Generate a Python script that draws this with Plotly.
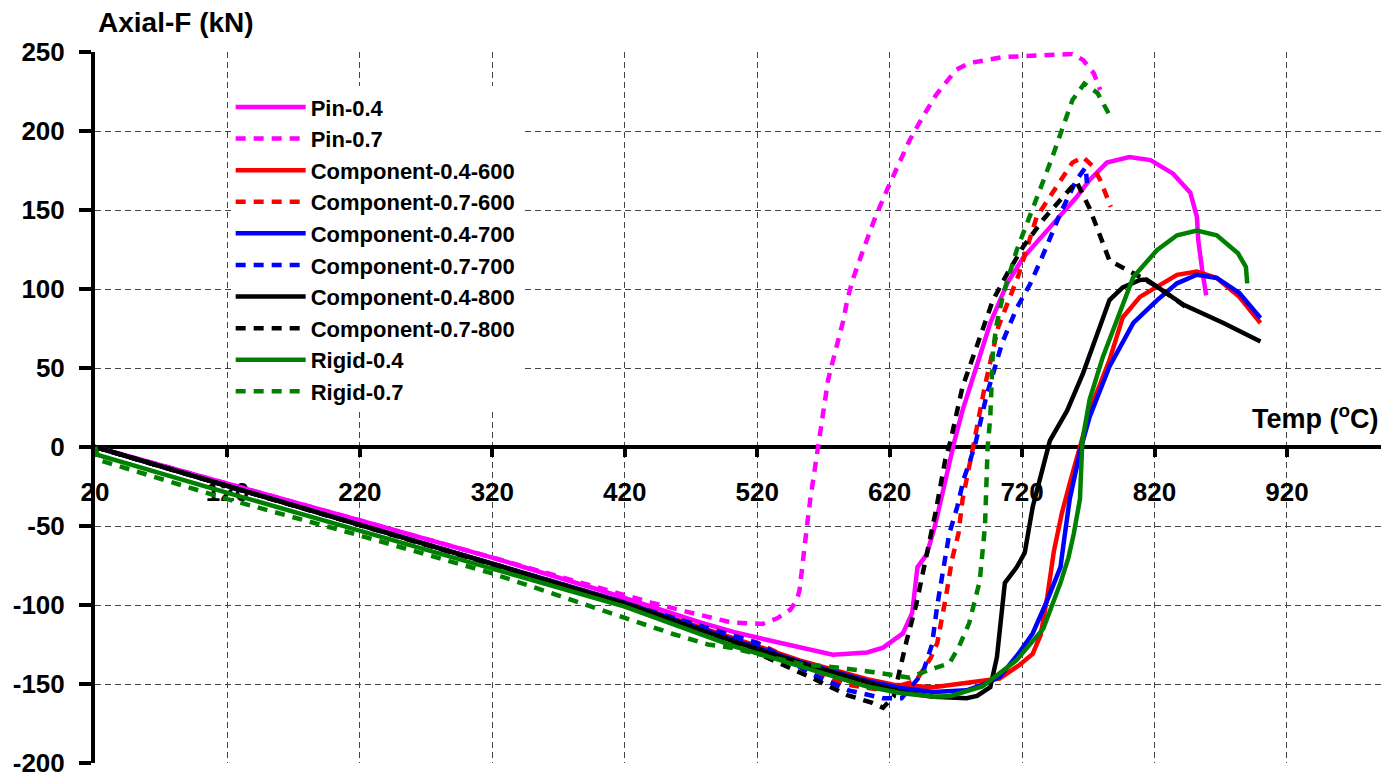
import plotly.graph_objects as go

# ---------------- data ----------------
x_ticks = [20, 120, 220, 320, 420, 520, 620, 720, 820, 920]
y_ticks = [-200, -150, -100, -50, 0, 50, 100, 150, 200, 250]

pin04_T = [20, 120, 220, 320, 401, 477, 502, 527, 577, 603, 615, 630, 637, 641, 648, 654, 663, 669, 675, 686, 696, 709, 721, 741, 761, 771, 784, 801, 817, 834, 847, 852, 853, 856, 859]
pin04_F = [0, -23, -46.5, -70, -90.5, -111, -117, -122, -131.5, -130, -127, -118, -105, -76, -68, -50.6, -16.6, 4, 23, 53, 78.5, 104, 120, 139, 158, 169, 180, 183.5, 181.6, 173, 161, 145.6, 131, 112, 96]

pin07_T = [20, 120, 220, 320, 420, 440, 468, 500, 524, 535, 545, 550, 552, 555, 557.5, 560, 566, 573.5, 576, 580, 585, 588, 592, 600, 609, 618, 628, 635, 643, 655, 670, 680, 706, 734, 758, 766, 774, 779]
pin07_F = [0, -23, -46.5, -70, -94, -98.5, -104.5, -111, -112, -108.4, -103, -96.8, -90.5, -71.5, -50.6, -33.5, 0, 42.4, 50.8, 63, 80, 93, 105.7, 124.7, 145, 162.7, 181.6, 194, 206, 222.8, 238.6, 243, 246.8, 248, 248.7, 245, 236.7, 226]

c04_600_T = [20, 120, 220, 320, 420, 502, 552, 603, 623, 653, 678, 690, 703, 718, 728, 734, 739, 744, 750, 756, 764, 772, 786, 796, 809, 822, 837, 852, 867, 884, 900]
c04_600_F = [0, -24.5, -49, -73.5, -98.5, -121, -135, -147, -150.5, -152, -149, -148, -146.5, -138, -131, -119, -95, -66, -42, -23, 0, 25, 55, 82, 95, 101.5, 109, 111, 107, 95, 78.5]

c07_600_T = [20, 120, 220, 320, 420, 520, 585, 615, 640, 651, 656, 663, 667, 672, 675, 683, 692, 702, 717, 731, 748, 758, 766, 773, 779, 787]
c07_600_F = [0, -24.5, -49, -74, -98.5, -124, -150, -154, -148, -133.5, -124, -92.4, -71.5, -54.6, -33.5, 0, 39, 76, 108, 145.6, 168, 180, 183.5, 178, 169, 152]

c04_700_T = [20, 120, 220, 320, 420, 502, 552, 603, 628, 653, 678, 690, 703, 718, 728, 739, 749, 752, 756, 764, 771, 786, 804, 822, 837, 852, 867, 884, 900]
c04_700_F = [0, -24.5, -49, -73.5, -98.5, -122, -136, -148, -152.5, -155, -154, -150.6, -145.6, -130, -118, -97, -76, -57, -33, -2, 19, 51, 78.5, 93, 103.6, 109, 107, 97.5, 81.6]

c07_700_T = [20, 120, 220, 320, 420, 520, 562, 589, 615, 629, 645, 652, 656, 661, 665, 671, 676, 681, 685, 693, 705, 716, 726, 734, 749, 761, 768, 769]
c07_700_F = [0, -24.5, -49.5, -74, -99, -124, -144, -154, -159, -159, -143, -125, -100, -76, -55, -38, -20, -8, 3, 32, 66, 88, 103, 118, 148, 169, 177, 167]

c04_800_T = [20, 120, 220, 320, 420, 502, 552, 603, 628, 653, 678, 686, 696, 701, 705, 707, 716, 722, 728, 735, 741, 754, 766, 776, 786, 796, 809, 814, 822, 842, 872, 900]
c04_800_F = [0, -24.5, -49, -74, -99, -123, -136.5, -148.6, -155, -158, -159, -157.5, -152, -133, -101, -86, -76, -67, -38, -16.6, 4, 23, 46.6, 69.8, 93, 101, 105.7, 106, 101.5, 90, 78.5, 66.7]

c07_800_T = [20, 120, 220, 320, 420, 500, 536, 561, 588, 607, 615, 623, 628, 633, 640, 649, 655, 662, 666, 675, 683, 691, 698, 709, 721, 736, 751, 761, 771, 786, 804, 822, 843]
c07_800_F = [0, -24.5, -49.5, -74.5, -99.5, -123, -136.5, -146, -157, -162, -165, -158, -140, -122, -100, -65, -40, -8, 4, 38, 57, 76, 93, 110, 127, 144, 158, 168, 151, 118, 110, 101.5, 89]

rigid04_T = [20, 22, 120, 220, 320, 420, 502, 603, 628, 653, 666, 690, 716, 736, 749, 755, 759, 763.7, 765.5, 771, 781, 786, 796, 804, 822, 837, 852, 867, 883, 889, 890]
rigid04_F = [0, -5, -29, -53, -77, -101, -126, -151.6, -155.7, -158, -157.6, -151.6, -134.8, -115, -86, -70, -55, -33, 4, 30, 57, 67.7, 88.6, 107.6, 124.7, 134, 137, 134, 122.6, 114, 103.6]

rigid07_T = [20, 22, 120, 220, 320, 401, 430, 457, 483, 500, 554, 580, 608, 635, 650, 665, 672, 680, 688, 692, 694, 696, 697, 698, 701, 706, 716, 726, 734, 742, 750, 758, 767, 777, 788]
rigid07_F = [0, -8, -33, -56, -80, -103, -111.5, -118.5, -125, -127, -137.5, -139.5, -142.5, -146, -141, -137, -127, -111.6, -85, -50, 0, 19, 40.5, 61, 78.5, 97.5, 124.7, 145.6, 164, 181.6, 200.6, 219.6, 230, 224, 207]

series = [
    ("Pin-0.4", pin04_T, pin04_F, "#FF00FF", "solid"),
    ("Pin-0.7", pin07_T, pin07_F, "#FF00FF", "dash"),
    ("Component-0.4-600", c04_600_T, c04_600_F, "#FF0000", "solid"),
    ("Component-0.7-600", c07_600_T, c07_600_F, "#FF0000", "dash"),
    ("Component-0.4-700", c04_700_T, c04_700_F, "#0000FF", "solid"),
    ("Component-0.7-700", c07_700_T, c07_700_F, "#0000FF", "dash"),
    ("Component-0.4-800", c04_800_T, c04_800_F, "#000000", "solid"),
    ("Component-0.7-800", c07_800_T, c07_800_F, "#000000", "dash"),
    ("Rigid-0.4", rigid04_T, rigid04_F, "#008000", "solid"),
    ("Rigid-0.7", rigid07_T, rigid07_F, "#008000", "dash"),
]

FONT = "Liberation Sans, Arial, Helvetica, sans-serif"

fig = go.Figure()
for name, T, F, color, style in series:
    fig.add_trace(go.Scatter(
        x=T, y=F, mode="lines", name=name,
        line=dict(color=color, width=4.5,
                  dash=("solid" if style == "solid" else "10px,8px")),
    ))

fig.update_layout(
    width=1383, height=774,
    margin=dict(l=95, r=2, t=52, b=11, autoexpand=False),
    plot_bgcolor="white", paper_bgcolor="white",
    font=dict(family=FONT, size=26, color="black", weight="bold"),
    legend=dict(x=0.1055, y=0.952, xanchor="left", yanchor="top",
                bgcolor="white", borderwidth=0, itemwidth=70,
                font=dict(family=FONT, size=22, color="black", weight="bold"),
                tracegroupgap=0),
    xaxis=dict(range=[20, 991], tickmode="array", tickvals=x_ticks,
               ticktext=[str(v) for v in x_ticks],
               showgrid=True, gridcolor="#444444", gridwidth=1, griddash="6px,4px",
               showline=True, linecolor="black", linewidth=4,
               ticks="outside", ticklen=8, tickwidth=4, tickcolor="black",
               anchor="free", position=200 / 450, zeroline=False,
               layer="below traces", ticklabelstandoff=13,
               ticklabeloverflow="allow", automargin=False,
               tickfont=dict(family=FONT, size=26, color="black", weight="bold")),
    yaxis=dict(range=[-200, 250], tickmode="array", tickvals=y_ticks,
               ticktext=[str(v) for v in y_ticks],
               showgrid=True, gridcolor="#444444", gridwidth=1, griddash="6px,4px",
               showline=True, linecolor="black", linewidth=4,
               ticks="outside", ticklen=12, tickwidth=4, tickcolor="black",
               zeroline=False, layer="below traces", ticklabelstandoff=9,
               ticklabeloverflow="allow", automargin=False,
               tickfont=dict(family=FONT, size=26, color="black", weight="bold")),
    annotations=[
        dict(text="Axial-F (kN)", xref="paper", yref="paper", x=0.001, y=1.041,
             xanchor="left", yanchor="middle", showarrow=False,
             font=dict(family=FONT, size=28, color="black", weight="bold")),
        dict(text="Temp (<sup>o</sup>C)", xref="paper", yref="paper", x=1.0, y=0.487,
             xanchor="right", yanchor="middle", showarrow=False,
             font=dict(family=FONT, size=27, color="black", weight="bold")),
    ],
)

fig.write_html("out.html", config={"displayModeBar": False},
               post_script="document.body.style.margin='0';")
